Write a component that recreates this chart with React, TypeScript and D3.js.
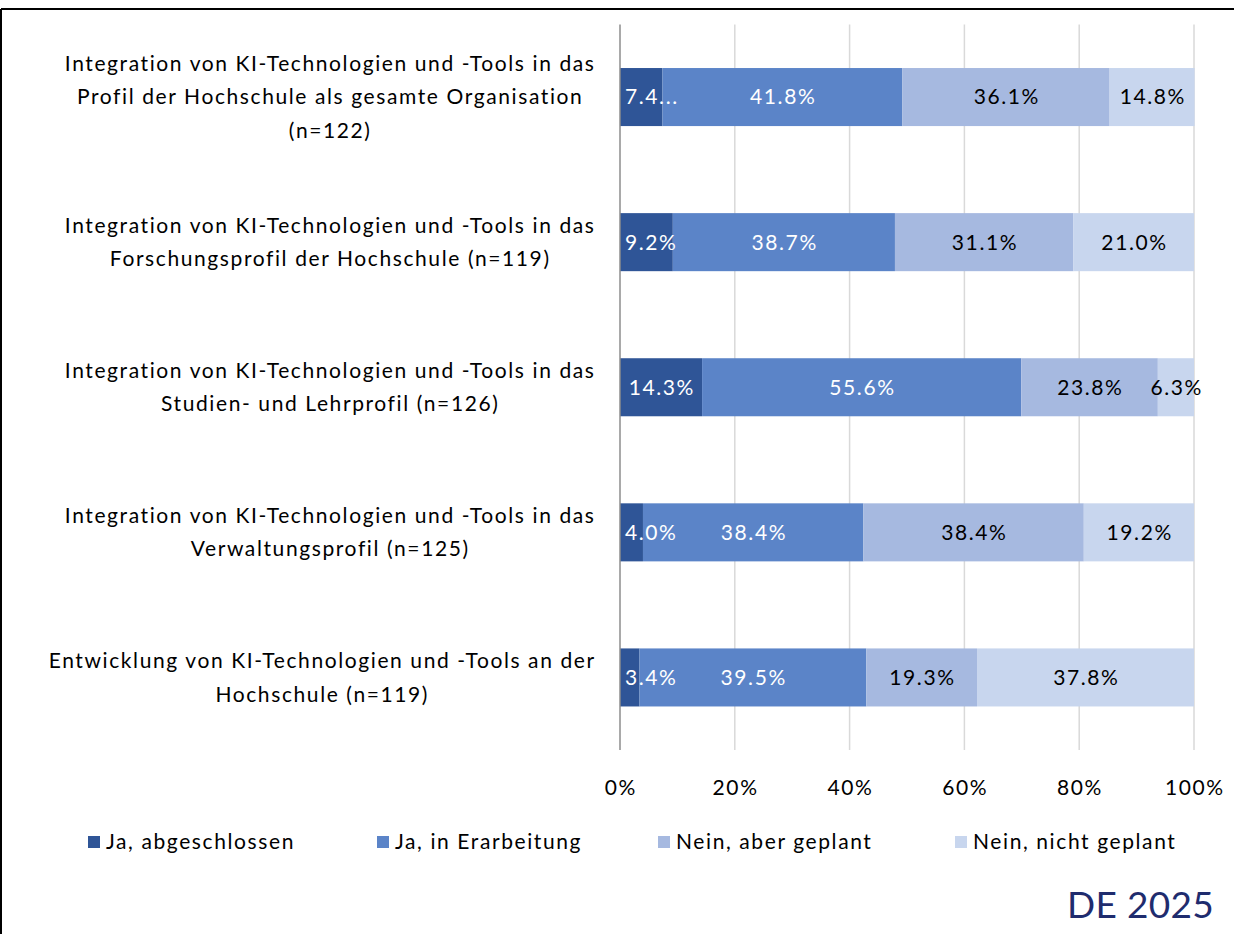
import React from "react";
import * as d3 from "d3";

const categories: string[][] = [
  ["Integration von KI-Technologien und -Tools in das", "Profil der Hochschule als gesamte Organisation", "(n=122)"],
  ["Integration von KI-Technologien und -Tools in das", "Forschungsprofil der Hochschule (n=119)"],
  ["Integration von KI-Technologien und -Tools in das", "Studien- und Lehrprofil (n=126)"],
  ["Integration von KI-Technologien und -Tools in das", "Verwaltungsprofil (n=125)"],
  ["Entwicklung von KI-Technologien und -Tools an der", "Hochschule (n=119)"],
];

const seriesNames = ["Ja, abgeschlossen", "Ja, in Erarbeitung", "Nein, aber geplant", "Nein, nicht geplant"];
const jaAbgeschlossen = [7.4, 9.2, 14.3, 4.0, 3.4];
const jaInErarbeitung = [41.8, 38.7, 55.6, 38.4, 39.5];
const neinAberGeplant = [36.1, 31.1, 23.8, 38.4, 19.3];
const neinNichtGeplant = [14.8, 21.0, 6.3, 19.2, 37.8];
const seriesValues = [jaAbgeschlossen, jaInErarbeitung, neinAberGeplant, neinNichtGeplant];
const tickValues = [0, 20, 40, 60, 80, 100];
// Excel truncated this one label because it did not fit its segment
const truncatedLabels: { [key: string]: string } = { "0-0": "7.4..." };

const colors = ["#2F5597", "#5B84C8", "#A6B9E0", "#C8D6EE"];
const labelColors = ["#FFFFFF", "#FFFFFF", "#000000", "#000000"];
const FONT = "Lato, 'Open Sans', sans-serif";
const LS = 1.6; // letter spacing

let ctx: CanvasRenderingContext2D | null = null;
function measure(text: string, size: number): number {
  if (!ctx) ctx = document.createElement("canvas").getContext("2d");
  if (!ctx) return text.length * size * 0.55;
  ctx.font = `${size}px Lato`;
  return ctx.measureText(text).width + text.length * LS;
}

export default function App() {
  const W = 1234, H = 934;
  const x0 = 620, x1 = 1194;
  const top = 24.5, bottom = 750;
  const x = d3.scaleLinear().domain([0, 100]).range([x0, x1]);
  const y = d3.scaleBand<number>().domain(d3.range(categories.length)).range([top, bottom]).paddingInner(0.6).paddingOuter(0.3);
  const catSize = 21;
  const lblSize = 21;
  const lineH = 33.5;
  const stack = categories.map((_, i) => {
    let acc = 0;
    return seriesValues.map((s) => {
      const start = acc;
      acc += s[i];
      return [start, acc];
    });
  });

  return (
    <div style={{ position: "absolute", left: 0, top: 0 }}>
      <svg width={W} height={H} style={{ display: "block", background: "#fff" }} fontFamily={FONT} letterSpacing={LS}>
        {/* frame */}
        <line x1={1} y1={9} x2={W} y2={9} stroke="#000" strokeWidth={2} />
        <line x1={1} y1={9} x2={1} y2={H} stroke="#000" strokeWidth={2} />
        {/* gridlines */}
        {tickValues.slice(1).map((t) => (
          <line key={t} x1={x(t)} x2={x(t)} y1={top} y2={bottom} stroke="#D9D9D9" strokeWidth={1.5} />
        ))}
        {/* bars */}
        {stack.map((row, i) =>
          row.map(([a, b], j) => (
            <rect key={`${i}-${j}`} x={x(a)} y={y(i)!} width={x(b) - x(a)} height={y.bandwidth()} fill={colors[j]} />
          ))
        )}
        {/* axis line */}
        <line x1={x0} x2={x0} y1={top} y2={bottom} stroke="#8C8C8C" strokeWidth={1.5} />
        {/* data labels */}
        {stack.map((row, i) =>
          row.map(([a, b], j) => {
            const key = `${i}-${j}`;
            const txt = truncatedLabels[key] ?? `${seriesValues[j][i].toFixed(1)}%`;
            const w = measure(txt, lblSize);
            let cx = (x(a) + x(b)) / 2 + LS / 2;
            if (cx - w / 2 < x0 + 5) cx = x0 + 5 + w / 2;
            return (
              <text key={key} x={cx} y={y(i)! + y.bandwidth() / 2} dy="0.35em" textAnchor="middle" fontSize={lblSize} fill={labelColors[j]}>
                {txt}
              </text>
            );
          })
        )}
        {/* category labels */}
        {categories.map((lines, i) => {
          const maxW = Math.max(...lines.map((l) => measure(l, catSize)));
          const cx = 596 - maxW / 2;
          const cy = y(i)! + y.bandwidth() / 2;
          return (
            <text key={i} textAnchor="middle" fontSize={catSize} fill="#000">
              {lines.map((l, k) => (
                <tspan key={k} x={cx} y={cy + (k - (lines.length - 1) / 2) * lineH} dy="0.35em">
                  {l}
                </tspan>
              ))}
            </text>
          );
        })}
        {/* x ticks */}
        {tickValues.map((t) => (
          <text key={t} x={x(t) + LS / 2} y={788} dy="0.35em" textAnchor="middle" fontSize={lblSize} fill="#000">
            {`${t}%`}
          </text>
        ))}
        {/* legend */}
        {seriesNames.map((n, j) => {
          const lx = [88, 377, 658, 955][j];
          return (
            <g key={n} transform={`translate(${lx},842)`}>
              <rect x={0} y={-6} width={12} height={12} fill={colors[j]} />
              <text x={18} y={0} dy="0.35em" fontSize={lblSize} fill="#000">{n}</text>
            </g>
          );
        })}
        <text x={1214} y={905} dy="0.35em" textAnchor="end" fontSize={37} letterSpacing={0.3} fill="#1F2C6E">DE 2025</text>
      </svg>
    </div>
  );
}
